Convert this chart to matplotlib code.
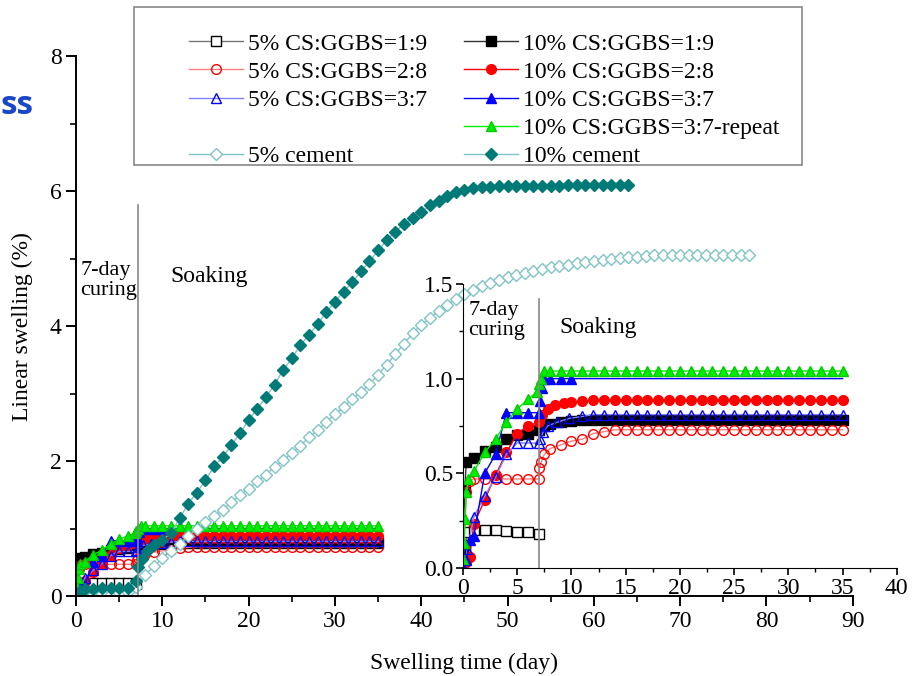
import matplotlib
matplotlib.use('Agg')
import matplotlib.pyplot as plt
from matplotlib.lines import Line2D
from matplotlib.patches import Rectangle

plt.rcParams['font.family'] = ['Liberation Serif', 'DejaVu Serif']
plt.rcParams['font.size'] = 17

# ---- data (swelling time in days, linear swelling in %) ----
t_5_19 = [0, 0.2, 0.5, 1, 2, 3, 4, 5, 6, 7]
y_5_19 = [0.03, 0.12, 0.19, 0.20, 0.20, 0.20, 0.195, 0.19, 0.19, 0.18]

t_10_19 = [0, 0.15, 0.3, 1, 2, 3, 4, 5, 6, 7, 7.5, 8, 9, 10, 11, 12, 13, 14, 15, 16, 17, 18,
           19, 20, 21, 22, 23, 24, 25, 26, 27, 28, 29, 30, 31, 32, 33, 34, 35]
y_10_19 = [0.10, 0.41, 0.56, 0.58, 0.62, 0.64, 0.68, 0.70, 0.71, 0.73, 0.75, 0.76, 0.77, 0.775,
           0.78, 0.78, 0.78, 0.78, 0.78, 0.78, 0.78, 0.78, 0.78, 0.78, 0.78, 0.78, 0.78, 0.78,
           0.78, 0.78, 0.78, 0.78, 0.78, 0.78, 0.78, 0.78, 0.78, 0.78, 0.78]

t_5_28 = [0, 0.3, 0.6, 1, 2, 3, 4, 5, 6, 7, 7.05, 7.2, 7.5, 8, 9, 10, 11, 12, 13, 14, 15, 16,
          17, 18, 19, 20, 21, 22, 23, 24, 25, 26, 27, 28, 29, 30, 31, 32, 33, 34, 35]
y_5_28 = [0.04, 0.40, 0.46, 0.47, 0.47, 0.47, 0.47, 0.47, 0.47, 0.47, 0.53, 0.56, 0.60, 0.63,
          0.65, 0.67, 0.68, 0.71, 0.72, 0.73, 0.73, 0.73, 0.73, 0.73, 0.73, 0.73, 0.73, 0.73,
          0.73, 0.73, 0.73, 0.73, 0.73, 0.73, 0.73, 0.73, 0.73, 0.73, 0.73, 0.73, 0.73]

t_10_28 = [0, 0.3, 0.6, 1, 2, 3, 4, 5, 6, 7, 7.3, 7.8, 8.5, 9.3, 10, 11, 12, 13, 14, 15, 16,
           17, 18, 19, 20, 21, 22, 23, 24, 25, 26, 27, 28, 29, 30, 31, 32, 33, 34, 35]
y_10_28 = [0.0, 0.03, 0.06, 0.23, 0.36, 0.49, 0.61, 0.71, 0.75, 0.77, 0.81, 0.84, 0.86, 0.87,
           0.875, 0.88, 0.885, 0.885, 0.885, 0.885, 0.885, 0.885, 0.885, 0.885, 0.885, 0.885,
           0.885, 0.885, 0.885, 0.885, 0.885, 0.885, 0.885, 0.885, 0.885, 0.885, 0.885, 0.885,
           0.885, 0.885]

t_5_37 = [0, 0.4, 1, 2, 3, 4, 5, 6, 7, 7.1, 7.4, 7.8, 8.7, 9.8, 11, 12, 13, 14, 15, 16, 17,
          18, 19, 20, 21, 22, 23, 24, 25, 26, 27, 28, 29, 30, 31, 32, 33, 34, 35]
y_5_37 = [0.0, 0.10, 0.27, 0.38, 0.48, 0.60, 0.66, 0.66, 0.66, 0.68, 0.72, 0.75, 0.77, 0.79,
          0.80, 0.81, 0.81, 0.81, 0.81, 0.81, 0.81, 0.81, 0.81, 0.81, 0.81, 0.81, 0.81, 0.81,
          0.81, 0.81, 0.81, 0.81, 0.81, 0.81, 0.81, 0.81, 0.81, 0.81, 0.81]

t_10_37 = [0, 0.3, 0.6, 1, 2, 3, 4, 5, 6, 7, 7.1, 7.3, 7.5, 8, 9, 10, 11, 12, 13, 14, 15, 16,
           17, 18, 19, 20, 21, 22, 23, 24, 25, 26, 27, 28, 29, 30, 31, 32, 33, 34, 35]
y_10_37 = [0.0, 0.04, 0.15, 0.17, 0.50, 0.60, 0.82, 0.82, 0.82, 0.82, 0.88, 0.95, 1.0, 1.0,
           1.0, 1.0, 1.0, 1.0, 1.0, 1.0, 1.0, 1.0, 1.0, 1.0, 1.0, 1.0, 1.0, 1.0, 1.0, 1.0,
           1.0, 1.0, 1.0, 1.0, 1.0, 1.0, 1.0, 1.0, 1.0, 1.0, 1.0]

t_rep = [0, 0.1, 0.2, 0.3, 0.5, 1, 2, 3, 4, 5, 6, 6.8, 7, 7.2, 7.5, 8, 9, 10, 11, 12, 13, 14,
         15, 16, 17, 18, 19, 20, 21, 22, 23, 24, 25, 26, 27, 28, 29, 30, 31, 32, 33, 34, 35]
y_rep = [0.05, 0.13, 0.26, 0.40, 0.47, 0.51, 0.61, 0.68, 0.77, 0.84, 0.89, 0.93, 0.97, 1.0,
         1.04, 1.04, 1.04, 1.04, 1.04, 1.04, 1.04, 1.04, 1.04, 1.04, 1.04, 1.04, 1.04, 1.04,
         1.04, 1.04, 1.04, 1.04, 1.04, 1.04, 1.04, 1.04, 1.04, 1.04, 1.04, 1.04, 1.04, 1.04, 1.04]

t_cem5 = [0, 1, 2, 3, 4, 5, 6, 7, 8, 9, 10, 11, 12, 13, 14, 15, 16, 17, 18, 19, 20, 21, 22,
          23, 24, 25, 26, 27, 28, 29, 30, 31, 32, 33, 34, 35, 36, 37, 38, 39, 40, 41, 42, 43,
          44, 45, 46, 47, 48, 49, 50, 51, 52, 53, 54, 55, 56, 57, 58, 59, 60, 61, 62, 63, 64,
          65, 66, 67, 68, 69, 70, 71, 72, 73, 74, 75, 76, 77, 78]
y_cem5 = [0.0, 0.02, 0.02, 0.03, 0.03, 0.04, 0.06, 0.14, 0.31, 0.44, 0.56, 0.67, 0.77, 0.89,
          1.00, 1.09, 1.18, 1.28, 1.39, 1.49, 1.59, 1.70, 1.80, 1.91, 2.01, 2.12, 2.23, 2.35,
          2.46, 2.58, 2.69, 2.80, 2.92, 3.02, 3.14, 3.28, 3.43, 3.58, 3.74, 3.89, 4.02, 4.12,
          4.22, 4.31, 4.40, 4.47, 4.53, 4.59, 4.64, 4.68, 4.72, 4.75, 4.78, 4.81, 4.84, 4.87,
          4.89, 4.91, 4.93, 4.95, 4.96, 4.98, 5.00, 5.01, 5.02, 5.03, 5.04, 5.05, 5.05, 5.05,
          5.05, 5.05, 5.05, 5.05, 5.05, 5.05, 5.05, 5.05, 5.05]

t_cem10 = [0, 0.5, 1, 2, 3, 4, 5, 6, 7, 7.2, 7.6, 8.2, 9, 10, 11, 12, 13, 14, 15, 16, 17, 18,
           19, 20, 21, 22, 23, 24, 25, 26, 27, 28, 29, 30, 31, 32, 33, 34, 35, 36, 37, 38, 39,
           40, 41, 42, 43, 44, 45, 46, 47, 48, 49, 50, 51, 52, 53, 54, 55, 56, 57, 58, 59, 60,
           61, 62, 63, 64]
y_cem10 = [0.0, 0.08, 0.10, 0.11, 0.12, 0.12, 0.12, 0.12, 0.22, 0.43, 0.55, 0.66, 0.75, 0.83,
           0.93, 1.15, 1.37, 1.53, 1.72, 1.92, 2.06, 2.24, 2.41, 2.61, 2.77, 2.95, 3.13, 3.35,
           3.52, 3.72, 3.87, 4.03, 4.21, 4.36, 4.51, 4.65, 4.81, 4.96, 5.12, 5.27, 5.40, 5.51,
           5.60, 5.69, 5.79, 5.86, 5.93, 5.98, 6.02, 6.05, 6.06, 6.06, 6.07, 6.07, 6.07, 6.08,
           6.08, 6.08, 6.08, 6.08, 6.09, 6.09, 6.09, 6.09, 6.09, 6.09, 6.09, 6.09]

labels = ['5% CS:GGBS=1:9', '10% CS:GGBS=1:9', '5% CS:GGBS=2:8', '10% CS:GGBS=2:8',
          '5% CS:GGBS=3:7', '10% CS:GGBS=3:7', '10% CS:GGBS=3:7-repeat',
          '5% cement', '10% cement']

teal = '#007a76'
lteal = '#80c4c4'
# the 10% 3:7 markers stop once the curve sits under the repeat curve
blue_marks = list(range(16))
cs_series = [
    (t_5_19, y_5_19, dict(color='#777777', marker='s', mfc='white', mec='black')),
    (t_10_19, y_10_19, dict(color='#333333', marker='s', mfc='black', mec='black')),
    (t_5_28, y_5_28, dict(color='#ff8080', marker='o', mfc='none', mec='red')),
    (t_10_28, y_10_28, dict(color='red', marker='o', mfc='red', mec='red')),
    (t_5_37, y_5_37, dict(color='#8080ff', marker='^', mfc='none', mec='blue')),
    (t_10_37, y_10_37, dict(color='blue', marker='^', mfc='blue', mec='blue',
                            markevery=blue_marks)),
    (t_rep, y_rep, dict(color='#00ee00', marker='^', mfc='#00ee00', mec='#00cc00')),
]
cem_series = [
    (t_cem5, y_cem5, dict(color=lteal, marker='D', mfc='white', mec=lteal)),
    (t_cem10, y_cem10, dict(color=lteal, marker='D', mfc=teal, mec=teal)),
]

fig = plt.figure(figsize=(9.16, 6.76), dpi=100)
ax = fig.add_axes([0.083, 0.1183, 0.848, 0.7987])

handles = []
for (t, y, st), lab in zip(cs_series + cem_series, labels):
    ms = 6 if st['marker'] == 'D' else 7
    h, = ax.plot(t, y, lw=1, ms=ms, mew=1, label=lab, **st)
    handles.append(h)

ax.set_xlim(0, 90)
ax.set_ylim(0, 8)
ax.set_xticks(range(0, 91, 10))
ax.set_xticks(range(5, 90, 10), minor=True)
ax.set_yticks(range(0, 9, 2))
ax.set_yticks(range(1, 8, 2), minor=True)
for s in ['top', 'right']:
    ax.spines[s].set_visible(False)
for s in ['left', 'bottom']:
    ax.spines[s].set_linewidth(1.4)
ax.tick_params(which='major', direction='out', length=7, width=1.4, labelsize=17)
ax.tick_params(which='minor', direction='out', length=4, width=1.2)
ax.set_xlabel('Swelling time (day)', fontsize=17, labelpad=15)
ax.set_ylabel('Linear swelling (%)', fontsize=17, labelpad=12)
ax.plot([7.2, 7.2], [0, 5.8], color='#888888', lw=1.2)
ax.text(0.5, 4.97, '7-day\ncuring', fontsize=16, va='top', ha='left', linespacing=1.1)
ax.text(10.9, 4.73, 'Soaking', fontsize=17, va='center', ha='left')

# inset
ins = fig.add_axes([0.5055, 0.1598, 0.4735, 0.4202])
ins.patch.set_alpha(0)
for t, y, st in cs_series:
    ins.plot(t, y, lw=1, ms=7, mew=1, **st)
ins.set_xlim(0, 40)
ins.set_ylim(0, 1.5)
ins.set_xticks(range(0, 41, 5))
ins.set_xticks([2.5 + 5 * i for i in range(8)], minor=True)
ins.set_yticks([0, 0.5, 1.0, 1.5])
ins.set_yticks([0.25, 0.75, 1.25], minor=True)
ins.set_yticklabels(['0.0', '0.5', '1.0', '1.5'])
for s in ['top', 'right']:
    ins.spines[s].set_visible(False)
ins.tick_params(which='major', direction='out', length=5, width=1.2, labelsize=17, pad=2)
ins.tick_params(which='minor', direction='out', length=3, width=1.0)
ins.plot([7, 7], [0, 1.42], color='#888888', lw=1.2)
ins.text(0.5, 1.41, '7-day\ncuring', fontsize=16, va='top', ha='left', linespacing=1.1)
ins.text(8.9, 1.27, 'Soaking', fontsize=17, va='center', ha='left')

# legend with its own frame
fig.patches.append(Rectangle((134 / 916, 1 - 165 / 676), 668 / 916, 158 / 676,
                             transform=fig.transFigure, fill=False, ec='#888888', lw=1.2))
blank = Line2D([], [], linestyle='none')
order = [0, 2, 4, None, 7, 1, 3, 5, 6, 8]
leg_h = [handles[i] if i is not None else blank for i in order]
leg_l = [labels[i] if i is not None else ' ' for i in order]
fig.legend(leg_h, leg_l, loc='upper left', bbox_to_anchor=(189 / 916, 1 - 33 / 676),
           ncol=2, frameon=False, fontsize=17, borderpad=0, borderaxespad=0,
           handlelength=2.3, handletextpad=0.2, labelspacing=0.28, columnspacing=1.55)

fig.text(0.0, 1 - 114 / 676, 'ss', family='Open Sans', weight='bold', fontsize=24,
         color='#1a47c8', va='baseline', ha='left')

fig.savefig('out.png', dpi=100)
